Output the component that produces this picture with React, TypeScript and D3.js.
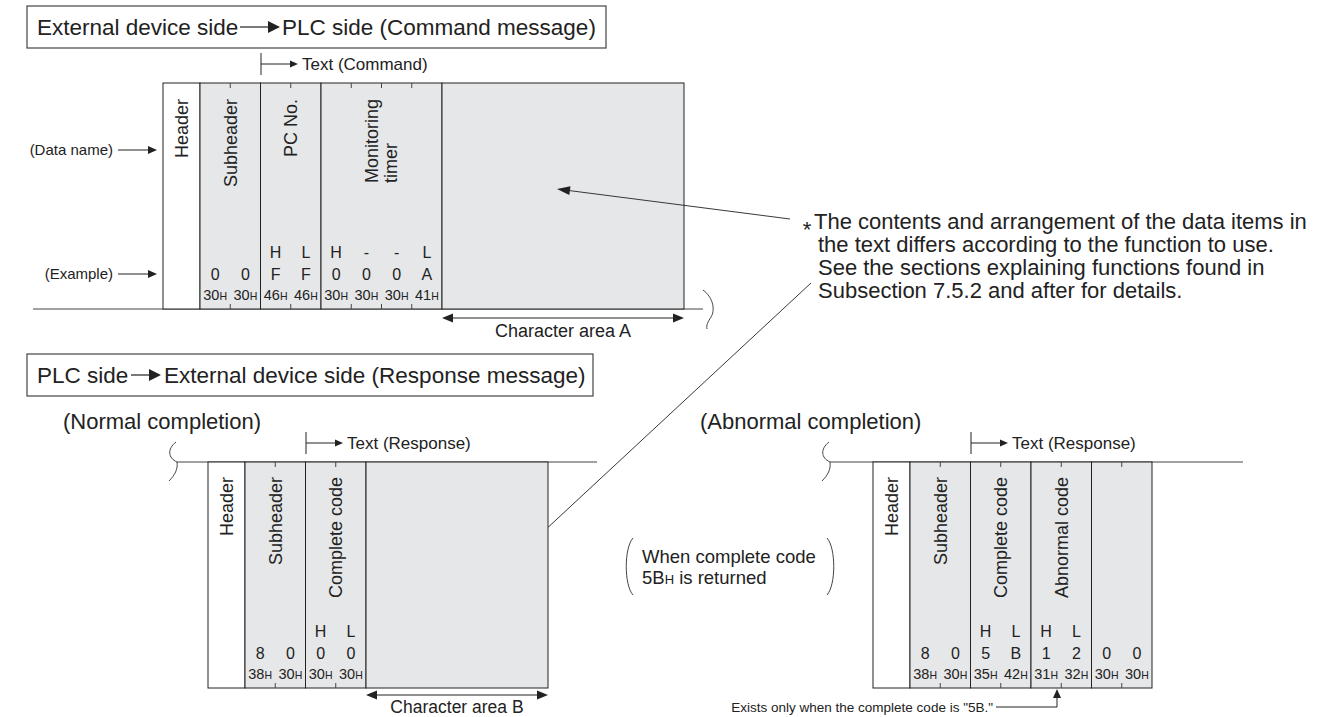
import React from 'react';
import * as d3 from 'd3';

const FONT = "'Liberation Sans', Arial, Helvetica, sans-serif";
const W = 1332;
const H = 717;
const HEADER_W = 37;
const CELL_W = 30.25;
const FILL = '#e6e7e9';
const INK = '#222';

// ---- data ----
const cmdFieldNames = [['Subheader'], ['PC No.'], ['Monitoring', 'timer']];
const cmdFieldSizes = [2, 2, 4];
const cmdPositions = ['', '', 'H', 'L', 'H', '-', '-', 'L'];
const cmdChars = ['0', '0', 'F', 'F', '0', '0', '0', 'A'];
const cmdHex = ['30', '30', '46', '46', '30', '30', '30', '41'];

const normFieldNames = [['Subheader'], ['Complete code']];
const normFieldSizes = [2, 2];
const normPositions = ['', '', 'H', 'L'];
const normChars = ['8', '0', '0', '0'];
const normHex = ['38', '30', '30', '30'];

const abnFieldNames = [['Subheader'], ['Complete code'], ['Abnormal code'], ['']];
const abnFieldSizes = [2, 2, 2, 2];
const abnPositions = ['', '', 'H', 'L', 'H', 'L', '', ''];
const abnChars = ['8', '0', '5', 'B', '1', '2', '0', '0'];
const abnHex = ['38', '30', '35', '42', '31', '32', '30', '30'];

const noteLines = [
  'The contents and arrangement of the data items in',
  'the text differs according to the function to use.',
  'See the sections explaining functions found in',
  'Subsection  7.5.2 and after for details.',
];

let _ctx: CanvasRenderingContext2D | null = null;
function measure(text: string, size: number) {
  if (!_ctx) {
    const c = document.createElement('canvas');
    _ctx = c.getContext('2d');
  }
  if (!_ctx) return text.length * size * 0.5;
  _ctx.font = `${size}px 'Liberation Sans', Arial, sans-serif`;
  return _ctx.measureText(text).width;
}

function arrowHead(tx: number, ty: number, fx: number, fy: number, len = 10, half = 4) {
  const dx = tx - fx;
  const dy = ty - fy;
  const d = Math.hypot(dx, dy) || 1;
  const ux = dx / d;
  const uy = dy / d;
  const bx = tx - ux * len;
  const by = ty - uy * len;
  const px = -uy * half;
  const py = ux * half;
  return `${tx},${ty} ${bx + px},${by + py} ${bx - px},${by - py}`;
}

function Arrow({ x1, y1, x2, y2, len = 9, half = 4, sw = 1 }: any) {
  const d = Math.hypot(x2 - x1, y2 - y1);
  const k = (d - len * 0.8) / d;
  return (
    <g>
      <line x1={x1} y1={y1} x2={x1 + (x2 - x1) * k} y2={y1 + (y2 - y1) * k} stroke={INK} strokeWidth={sw} />
      <polygon points={arrowHead(x2, y2, x1, y1, len, half)} fill={INK} />
    </g>
  );
}

function tildeLeft(bx: number, by: number) {
  return `M${bx - 1},${by - 20} C${bx - 10},${by - 13} ${bx - 9},${by - 4} ${bx},${by} C${bx + 1},${by + 7} ${bx - 2},${by + 13} ${bx - 8},${by + 19}`;
}
function tildeRight(bx: number, by: number) {
  return `M${bx},${by - 19} C${bx + 11},${by - 11} ${bx + 12},${by + 2} ${bx + 8},${by + 8} C${bx + 5},${by + 13} ${bx + 3},${by + 16} ${bx + 4},${by + 20}`;
}

function Frame(props: any) {
  const { headerX, top, bottom, names, sizes, pos, chars, hex, bigRight, labelTop } = props;
  const n = chars.length;
  const cellStart = headerX + HEADER_W;
  const x = d3.scaleLinear().domain([0, n]).range([cellStart, cellStart + n * CELL_W]);
  const ends = Array.from(d3.cumsum(sizes as number[])) as number[];
  const starts = [0, ...ends.slice(0, -1)];
  const yHL = bottom - 57;
  const yChar = bottom - 35;
  const yHex = bottom - 14;
  const lblSize = 18;
  return (
    <g>
      <rect x={headerX} y={top} width={HEADER_W} height={bottom - top} fill="#fff" stroke={INK} strokeWidth={1} />
      <text
        transform={`translate(${headerX + HEADER_W / 2},${labelTop}) rotate(-90)`}
        textAnchor="end"
        dy=".35em"
        fontSize={lblSize}
        fill={INK}
      >
        Header
      </text>
      {starts.map((s, i) => {
        const x0 = x(s);
        const x1 = x(ends[i]);
        const cx = (x0 + x1) / 2;
        const lines: string[] = names[i];
        const ticks = d3.range(s + 1, ends[i]);
        return (
          <g key={i}>
            <rect x={x0} y={top} width={x1 - x0} height={bottom - top} fill={FILL} stroke={INK} strokeWidth={1} />
            {ticks.map((t) => (
              <g key={t}>
                <line x1={x(t)} x2={x(t)} y1={top} y2={top + 5} stroke="#444" strokeWidth={1} />
                <line x1={x(t)} x2={x(t)} y1={bottom - 5} y2={bottom} stroke="#444" strokeWidth={1} />
              </g>
            ))}
            {lines.length === 1 && lines[0] !== '' && (
              <text transform={`translate(${cx},${labelTop}) rotate(-90)`} textAnchor="end" dy=".35em" fontSize={lblSize} fill={INK}>
                {lines[0]}
              </text>
            )}
            {lines.length === 2 && (
              <g>
                <text transform={`translate(${cx - 9.5},${labelTop}) rotate(-90)`} textAnchor="end" dy=".35em" fontSize={lblSize} fill={INK}>
                  {lines[0]}
                </text>
                <text
                  transform={`translate(${cx + 9.5},${labelTop + measure(lines[0], lblSize)}) rotate(-90)`}
                  textAnchor="start"
                  dy=".35em"
                  fontSize={lblSize}
                  fill={INK}
                >
                  {lines[1]}
                </text>
              </g>
            )}
          </g>
        );
      })}
      {bigRight != null && (
        <rect x={x(n)} y={top} width={bigRight - x(n)} height={bottom - top} fill={FILL} stroke={INK} strokeWidth={1} />
      )}
      {chars.map((c: string, i: number) => {
        const cx = x(i + 0.5);
        return (
          <g key={i}>
            {pos[i] && (
              <text x={cx} y={yHL} dy=".35em" textAnchor="middle" fontSize={16} fill={INK}>
                {pos[i]}
              </text>
            )}
            <text x={cx} y={yChar} dy=".35em" textAnchor="middle" fontSize={16} fill={INK}>
              {c}
            </text>
            <text x={cx} y={yHex} dy=".35em" textAnchor="middle" fontSize={14.5} fill={INK}>
              <tspan>{hex[i]}</tspan>
              <tspan fontSize={10.5}>H</tspan>
            </text>
          </g>
        );
      })}
    </g>
  );
}

function TextMark({ x, y, label }: any) {
  return (
    <g>
      <line x1={x} x2={x} y1={y - 11} y2={y + 11} stroke={INK} strokeWidth={1} />
      <Arrow x1={x} y1={y} x2={x + 37} y2={y} len={8} half={3.5} />
      <text x={x + 41} y={y} dy=".35em" fontSize={17} fill={INK}>
        {label}
      </text>
    </g>
  );
}

export default function App() {
  const normTop = 462;
  const normBottom = 688;
  return (
    <svg
      width={W}
      height={H}
      viewBox={`0 0 ${W} ${H}`}
      style={{ position: 'absolute', left: 0, top: 0, display: 'block', background: '#fff' }}
      fontFamily={FONT}
    >
      {/* ---------- Command message ---------- */}
      <rect x={27} y={6} width={579} height={42} fill="#fff" stroke="#444" strokeWidth={1.2} />
      <text x={37} y={27} dy=".35em" fontSize={22.5} fill={INK}>
        External device side
      </text>
      <Arrow x1={240} y1={27} x2={280} y2={27} len={12} half={6} sw={1.2} />
      <text x={282} y={27} dy=".35em" fontSize={22.5} fill={INK}>
        PLC side (Command message)
      </text>

      <TextMark x={261} y={64} label="Text (Command)" />

      <line x1={33} x2={703} y1={309} y2={309} stroke="#444" strokeWidth={1} />
      <path d={tildeRight(703, 309)} fill="none" stroke="#444" strokeWidth={1} />

      <Frame
        headerX={163}
        top={83}
        bottom={309}
        names={cmdFieldNames}
        sizes={cmdFieldSizes}
        pos={cmdPositions}
        chars={cmdChars}
        hex={cmdHex}
        bigRight={684}
        labelTop={99}
      />

      <text x={113} y={150} dy=".35em" textAnchor="end" fontSize={15} fill={INK}>
        (Data name)
      </text>
      <Arrow x1={118} y1={150} x2={157} y2={150} len={9} half={4} />
      <text x={113} y={274} dy=".35em" textAnchor="end" fontSize={15} fill={INK}>
        (Example)
      </text>
      <Arrow x1={118} y1={274} x2={157} y2={274} len={9} half={4} />

      <Arrow x1={560} y1={318} x2={442} y2={318} len={11} half={4.5} />
      <Arrow x1={560} y1={318} x2={684} y2={318} len={11} half={4.5} />
      <text x={563} y={331} dy=".35em" textAnchor="middle" fontSize={18} fill={INK}>
        Character area A
      </text>

      {/* note */}
      <text x={807} y={229} dy=".35em" textAnchor="middle" fontSize={22} fill={INK}>
        *
      </text>
      {noteLines.map((t, i) => (
        <text key={i} x={i === 0 ? 814 : 818} y={221 + i * 23} dy=".35em" fontSize={22} fill={INK}>
          {t}
        </text>
      ))}
      <Arrow x1={790} y1={219} x2={557} y2={189} len={13} half={4.5} sw={0.9} />
      <Arrow x1={811} y1={283} x2={458} y2={611} len={15} half={5} sw={0.9} />

      {/* ---------- Response message ---------- */}
      <rect x={27} y={354} width={566} height={42} fill="#fff" stroke="#444" strokeWidth={1.2} />
      <text x={37} y={375} dy=".35em" fontSize={22.5} fill={INK}>
        PLC side
      </text>
      <Arrow x1={131} y1={375} x2={161} y2={375} len={12} half={6} sw={1.2} />
      <text x={164} y={375} dy=".35em" fontSize={22.5} fill={INK}>
        External device side (Response message)
      </text>

      {/* Normal completion */}
      <text x={63} y={421} dy=".35em" fontSize={22} fill={INK}>
        (Normal completion)
      </text>
      <TextMark x={306} y={443} label="Text (Response)" />
      <line x1={177} x2={597} y1={normTop} y2={normTop} stroke="#444" strokeWidth={1} />
      <path d={tildeLeft(177, normTop)} fill="none" stroke="#444" strokeWidth={1} />
      <Frame
        headerX={208}
        top={normTop}
        bottom={normBottom}
        names={normFieldNames}
        sizes={normFieldSizes}
        pos={normPositions}
        chars={normChars}
        hex={normHex}
        bigRight={548}
        labelTop={477}
      />
      <Arrow x1={457} y1={695} x2={366} y2={695} len={11} half={4.5} />
      <Arrow x1={457} y1={695} x2={548} y2={695} len={11} half={4.5} />
      <text x={457} y={707} dy=".35em" textAnchor="middle" fontSize={17.5} fill={INK}>
        Character area B
      </text>

      {/* Abnormal completion */}
      <text x={700} y={421} dy=".35em" fontSize={22} fill={INK}>
        (Abnormal completion)
      </text>
      <TextMark x={971} y={443} label="Text (Response)" />
      <line x1={830} x2={1243} y1={normTop} y2={normTop} stroke="#444" strokeWidth={1} />
      <path d={tildeLeft(830, normTop)} fill="none" stroke="#444" strokeWidth={1} />
      <Frame
        headerX={873}
        top={normTop}
        bottom={normBottom}
        names={abnFieldNames}
        sizes={abnFieldSizes}
        pos={abnPositions}
        chars={abnChars}
        hex={abnHex}
        bigRight={null}
        labelTop={477}
      />

      {/* condition note */}
      <path d="M633,538 C624,548 624,585 633,595" fill="none" stroke="#444" strokeWidth={1} />
      <path d="M827,538 C836,548 836,585 827,595" fill="none" stroke="#444" strokeWidth={1} />
      <text x={642} y={557} dy=".35em" fontSize={18.5} fill={INK}>
        When complete code
      </text>
      <text x={642} y={578} dy=".35em" fontSize={18.5} fill={INK}>
        <tspan>5B</tspan>
        <tspan fontSize={13}>H</tspan>
        <tspan> is returned</tspan>
      </text>

      {/* exists only note */}
      <text x={993} y={707} dy=".35em" textAnchor="end" fontSize={13.5} fill={INK}>
        Exists only when the complete code is "5B."
      </text>
      <line x1={996} x2={1057} y1={707} y2={707} stroke={INK} strokeWidth={1} />
      <Arrow x1={1057} y1={707} x2={1057} y2={689} len={9} half={4} />
    </svg>
  );
}
